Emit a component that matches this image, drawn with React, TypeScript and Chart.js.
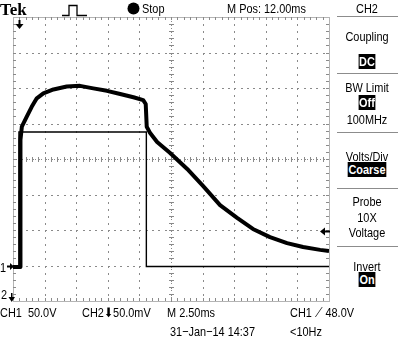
import React, { useEffect, useRef } from "react";
import { Chart, registerables } from "chart.js";
Chart.register(...registerables);

// CH1 (thick, 50 V/div, ground 3 div below centre) : time in ms, value in volts
const ch1Time = [0, 0.59, 0.59, 0.7, 1.08, 1.48, 1.88, 2.4, 3.2, 4.25, 5.3, 6.35, 7.43, 8.48, 9.53, 10.3, 10.5, 10.58, 10.85, 11.4, 12.43, 13.78, 15.03, 16.38, 17.73, 18.98, 20.33, 21.68, 22.95, 24.3, 25];
const ch1Volts = [-2, -2, 177, 195.5, 209.5, 223.5, 235.5, 242.5, 248, 252, 253, 249.5, 246, 241.5, 237, 233, 227.5, 195.5, 186.5, 174, 158.5, 136, 112, 85, 67, 51.5, 40, 31.5, 26, 22, 20.5];
// CH2 (thin pulse) : time in ms, value in screen divisions
const ch2Time = [0, 0.47, 0.47, 10.55, 10.55, 25];
const ch2Div = [-3.03, -3.03, 0.76, 0.76, -3.03, -3.03];

const voltsPerDiv = 50;
const ch1GroundDiv = -3;
const msPerDiv = 2.5;
const xDivs = 10;
const yDivs = 4;

const FONT = '"Liberation Sans", Arial, sans-serif';

const graticule = {
  id: "graticule",
  beforeDatasetsDraw(chart: any) {
    const { ctx, chartArea: ca, scales } = chart;
    const xs = scales.x, ys = scales.y;
    ctx.save();
    ctx.fillStyle = "#8a8a8a";
    ctx.strokeStyle = "#b4b4b4";
    ctx.lineWidth = 1;
    ctx.strokeRect(Math.round(ca.left) + 0.5, Math.round(ca.top) + 0.5, Math.round(ca.width), Math.round(ca.height));
    const xp = (d: number) => Math.round(xs.getPixelForValue(d * msPerDiv));
    const yp = (d: number) => Math.round(ys.getPixelForValue(d));
    // vertical grid lines
    for (let i = 1; i < xDivs; i++) {
      const px = xp(i);
      for (let j = 1; j < yDivs * 2 * 5; j++) {
        const py = yp(-yDivs + j * 0.2);
        if (i === xDivs / 2) ctx.fillRect(px - 2, py, 5, 1);
        ctx.fillRect(px, py, 1, 2);
      }
      if (i === xDivs / 2) {
        for (let j = 0; j < yDivs * 2 * 10; j++) ctx.fillRect(px, yp(-yDivs + j * 0.1), 1, 1);
      }
    }
    // horizontal grid lines
    for (let k = -yDivs + 1; k < yDivs; k++) {
      const py = yp(k);
      for (let j = 1; j < xDivs * 5; j++) {
        const px = xp(j * 0.2);
        if (k === 0) ctx.fillRect(px, py - 2, 1, 5);
        ctx.fillRect(px, py, 2, 1);
      }
      if (k === 0) {
        for (let j = 0; j < xDivs * 10; j++) ctx.fillRect(xp(j * 0.1), py, 1, 1);
      }
    }
    // edge ticks
    for (let j = 1; j < xDivs * 5; j++) {
      const px = xp(j * 0.2);
      ctx.fillRect(px, Math.round(ca.top), 1, 3);
      ctx.fillRect(px, Math.round(ca.bottom) - 3, 1, 3);
    }
    for (let j = 1; j < yDivs * 10; j++) {
      const py = yp(-yDivs + j * 0.2);
      ctx.fillRect(Math.round(ca.left), py, 3, 1);
      ctx.fillRect(Math.round(ca.right) - 3, py, 3, 1);
    }
    ctx.restore();
  },
  afterDraw(chart: any) {
    const { ctx, chartArea: ca, scales } = chart;
    const xs = scales.x, ys = scales.y;
    ctx.save();
    ctx.fillStyle = "#000";
    ctx.strokeStyle = "#000";
    // trigger position marker (top)
    const tx = Math.round(xs.getPixelForValue(ch2Time[1])) + 0.5;
    ctx.fillRect(tx - 1, ca.top + 3, 2, 5);
    ctx.beginPath();
    ctx.moveTo(tx - 4, ca.top + 7);
    ctx.lineTo(tx + 4, ca.top + 7);
    ctx.lineTo(tx, ca.top + 12);
    ctx.closePath();
    ctx.fill();
    // CH1 ground marker
    const gy = Math.round(ys.getPixelForValue(ch1GroundDiv));
    ctx.fillRect(7, gy - 0.5, 4, 2);
    ctx.beginPath();
    ctx.moveTo(10, gy - 3);
    ctx.lineTo(14, gy + 0.5);
    ctx.lineTo(10, gy + 4);
    ctx.closePath();
    ctx.fill();
    // CH2 marker (off-screen below)
    ctx.fillRect(11, ca.bottom - 8, 1.5, 5);
    ctx.beginPath();
    ctx.moveTo(8.5, ca.bottom - 4);
    ctx.lineTo(15, ca.bottom - 4);
    ctx.lineTo(11.75, ca.bottom + 1);
    ctx.closePath();
    ctx.fill();
    // trigger level marker (right)
    const ly = Math.round(ys.getPixelForValue(48 / voltsPerDiv + ch1GroundDiv));
    ctx.fillRect(ca.right - 5, ly - 0.5, 6, 2);
    ctx.beginPath();
    ctx.moveTo(ca.right - 9, ly + 0.5);
    ctx.lineTo(ca.right - 4, ly - 3.5);
    ctx.lineTo(ca.right - 4, ly + 4.5);
    ctx.closePath();
    ctx.fill();
    // pulse icon (top bar)
    ctx.lineWidth = 1.3;
    ctx.beginPath();
    ctx.moveTo(62, 15.5);
    ctx.lineTo(69, 15.5);
    ctx.lineTo(69, 5.5);
    ctx.lineTo(77, 5.5);
    ctx.lineTo(77, 15.5);
    ctx.lineTo(87, 15.5);
    ctx.stroke();
    // stop dot
    ctx.beginPath();
    ctx.arc(133.5, 8.5, 6, 0, Math.PI * 2);
    ctx.fill();
    // menu separators
    ctx.fillStyle = "#8c8c8c";
    for (const y of [16, 73, 132, 188, 246]) ctx.fillRect(337, y, 61, 1);
    ctx.restore();
  },
};

function T({ x, y, children, style }: any) {
  return (
    <div style={{ position: "absolute", left: x, top: y, fontFamily: FONT, fontSize: 13, lineHeight: "14px", color: "#000", whiteSpace: "pre", transform: "scaleX(0.84)", transformOrigin: "0 0", ...style }}>
      {children}
    </div>
  );
}

function Menu({ y, children, inv }: any) {
  return (
    <div style={{ position: "absolute", left: 331, width: 72, top: y, textAlign: "center", fontFamily: FONT, fontSize: 13, lineHeight: "14px", whiteSpace: "pre", transform: "scaleX(0.84)", transformOrigin: "50% 0" }}>
      {inv ? (
        <span style={{ background: "#000", color: "#fff", padding: "0 1px", fontWeight: "bold" }}>{children}</span>
      ) : (
        children
      )}
    </div>
  );
}

export default function App() {
  const ref = useRef<HTMLCanvasElement>(null);
  useEffect(() => {
    const ch1 = ch1Time.map((t, i) => ({ x: t, y: ch1Volts[i] / voltsPerDiv + ch1GroundDiv }));
    const ch2 = ch2Time.map((t, i) => ({ x: t, y: ch2Div[i] }));
    const chart = new Chart(ref.current!, {
      type: "line",
      data: {
        datasets: [
          { label: "CH1", data: ch1, borderColor: "#000", borderWidth: 4, pointRadius: 0, tension: 0, borderJoinStyle: "round" as any },
          { label: "CH2", data: ch2, borderColor: "#000", borderWidth: 1.4, pointRadius: 0, tension: 0 },
        ],
      },
      options: {
        animation: false,
        responsive: false,
        devicePixelRatio: 1,
        layout: { padding: { left: 13, top: 17, right: 77, bottom: 42 } },
        plugins: { legend: { display: false }, tooltip: { enabled: false } },
        scales: {
          x: { type: "linear", min: 0, max: xDivs * msPerDiv, display: false },
          y: { type: "linear", min: -yDivs, max: yDivs, display: false },
        },
      },
      plugins: [graticule],
    });
    return () => chart.destroy();
  }, []);
  return (
    <div style={{ position: "fixed", left: 0, top: 0, width: 406, height: 343, background: "#fff", overflow: "hidden" }}>
      <canvas ref={ref} width={406} height={343} style={{ position: "absolute", left: 0, top: 0, width: 406, height: 343 }} />
      <T x={0} y={1} style={{ fontFamily: '"Liberation Serif", serif', fontWeight: "bold", fontSize: 17, lineHeight: "18px", transform: "none" }}>Tek</T>
      <T x={142} y={2}>Stop</T>
      <T x={227} y={2}>M Pos: 12.00ms</T>
      <Menu y={2}>CH2</Menu>
      <Menu y={30}>Coupling</Menu>
      <Menu y={55} inv>DC</Menu>
      <Menu y={81}>BW Limit</Menu>
      <Menu y={96} inv>Off</Menu>
      <Menu y={113}>100MHz</Menu>
      <Menu y={150}>Volts/Div</Menu>
      <Menu y={163} inv>Coarse</Menu>
      <Menu y={195}>Probe</Menu>
      <Menu y={211}>10X</Menu>
      <Menu y={226}>Voltage</Menu>
      <Menu y={260}>Invert</Menu>
      <Menu y={273} inv>On</Menu>
      <T x={0} y={261}>1</T>
      <T x={1} y={288}>2</T>
      <T x={0} y={306}>CH1  50.0V</T>
      <T x={82} y={306}>CH2⬇50.0mV</T>
      <T x={167} y={306}>M 2.50ms</T>
      <T x={290} y={306}>CH1 ⟋ 48.0V</T>
      <T x={170} y={325}>31−Jan−14 14:37</T>
      <T x={290} y={325}>&lt;10Hz</T>
    </div>
  );
}
